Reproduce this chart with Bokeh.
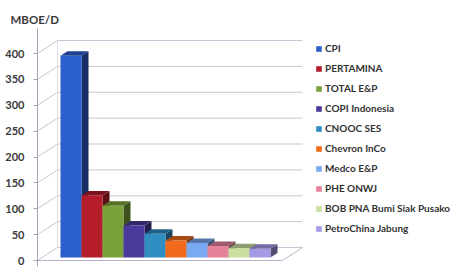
from bokeh.plotting import figure
from bokeh.models import ColumnDataSource, Range1d, FixedTicker
from bokeh.embed import file_html
from bokeh.resources import INLINE

# ---- data ----
companies = ["CPI", "PERTAMINA", "TOTAL E&P", "COPI Indonesia", "CNOOC SES",
             "Chevron InCo", "Medco E&P", "PHE ONWJ", "BOB PNA Bumi Siak Pusako",
             "PetroChina Jabung"]
production = [390, 120, 100, 62, 46, 33, 28, 22, 18, 17]
y_ticks = [0, 50, 100, 150, 200, 250, 300, 350, 400]
unit_label = "MBOE/D"

front_colors = ["#2b5fcc", "#b51c2c", "#7ba23a", "#4b3a9c", "#2f8dc2",
                "#f26b1d", "#79a9f2", "#e3829a", "#c9df9e", "#a59ae6"]

# ---- geometry (pixels -> data) ----
W, H = 462, 266
LEFT = 37
TOP = 28
PXX = 21.0       # px per category
PXY = 0.5175     # px per unit
ZERO_PX = 260    # y pixel (from top of canvas) of front-plane zero
x0 = -23.0 / PXX
x_end = x0 + (W - LEFT) / PXX
y_start = -(H - ZERO_PX) / PXY
y_end = (ZERO_PX - TOP) / PXY

def shade(c, f):
    r, g, b = int(c[1:3], 16), int(c[3:5], 16), int(c[5:7], 16)
    return "#%02x%02x%02x" % (int(r * f), int(g * f), int(b * f))

p = figure(width=W, height=H, output_backend="svg", toolbar_location=None,
           x_range=Range1d(x0, x_end), y_range=Range1d(y_start, y_end),
           x_axis_type=None, min_border_left=LEFT, min_border_right=0,
           min_border_top=TOP, min_border_bottom=0, title=unit_label)
p.outline_line_color = None
p.xgrid.visible = False
p.ygrid.visible = False
p.background_fill_color = "white"

p.title.align = "left"
p.title.offset = 10 - LEFT
p.title.standoff = 6
p.title.text_font = "Lato"
p.title.text_font_size = "11.5px"
p.title.text_font_style = "bold"
p.title.text_color = "#3a3a3a"

# walls / gridlines
wdx = 20.0 / PXX
wdy = 13.0 / PXY
x_back_right = x0 + (302 - LEFT) / PXX
grid_color = "#cbc4d6"
p.segment(x0=[x0 + wdx] * len(y_ticks), y0=[t + wdy for t in y_ticks],
          x1=[x_back_right] * len(y_ticks), y1=[t + wdy for t in y_ticks],
          line_color=grid_color, line_width=1)
p.segment(x0=[x0] * len(y_ticks), y0=y_ticks,
          x1=[x0 + wdx] * len(y_ticks), y1=[t + wdy for t in y_ticks],
          line_color=grid_color, line_width=1)
p.segment(x0=[x0 + wdx], y0=[wdy], x1=[x0 + wdx], y1=[y_ticks[-1] + wdy],
          line_color="#e2dde8", line_width=1)
# floor
p.line(x=[x0, x_back_right - wdx, x_back_right], y=[0, 0, wdy],
       line_color="#b9b0c8", line_width=1)

# bars (pseudo 3D)
boff = 3.0 / PXY
ddx = 7.0 / PXX
ddy = 4.5 / PXY
xs, ys, cs = [], [], []
for i, v in enumerate(production):
    l, r = i, i + 1
    b, t = boff, boff + v
    xs.append([r, r, r + ddx, r + ddx]); ys.append([b, t, t + ddy, b + ddy])
    cs.append(shade(front_colors[i], 0.5))
    xs.append([l, r, r + ddx, l + ddx]); ys.append([t, t, t + ddy, t + ddy])
    cs.append(shade(front_colors[i], 0.7))
p.patches(xs=xs, ys=ys, fill_color=cs, line_color=None)

src = ColumnDataSource(dict(
    left=list(range(len(production))),
    right=[i + 1 for i in range(len(production))],
    bottom=[boff] * len(production),
    top=[boff + v for v in production],
    color=front_colors, name=companies))
p.quad(left="left", right="right", bottom="bottom", top="top",
       fill_color="color", line_color=None, source=src, legend_field="name")

# axis
ax = p.yaxis[0]
ax.ticker = FixedTicker(ticks=y_ticks)
ax.axis_line_color = "#a8a0b8"
ax.major_tick_line_color = "#a8a0b8"
ax.major_tick_out = 4
ax.major_tick_in = 0
ax.minor_tick_line_color = None
ax.major_label_standoff = 9
ax.major_label_text_font = "Lato"
ax.major_label_text_font_size = "11px"
ax.major_label_text_font_style = "bold"
ax.major_label_text_color = "#3a3a3a"

# legend
lg = p.legend[0]
lg.location = (278, 28)
lg.padding = 0
lg.margin = 0
lg.spacing = 0
lg.border_line_color = None
lg.background_fill_alpha = 0
lg.glyph_width = 7
lg.glyph_height = 7
lg.label_height = 20
lg.label_standoff = 3
lg.label_text_font = "Lato"
lg.label_text_font_size = "10px"
lg.label_text_font_style = "bold"
lg.label_text_color = "#333333"

open("out.html", "w").write(file_html(p, INLINE))
